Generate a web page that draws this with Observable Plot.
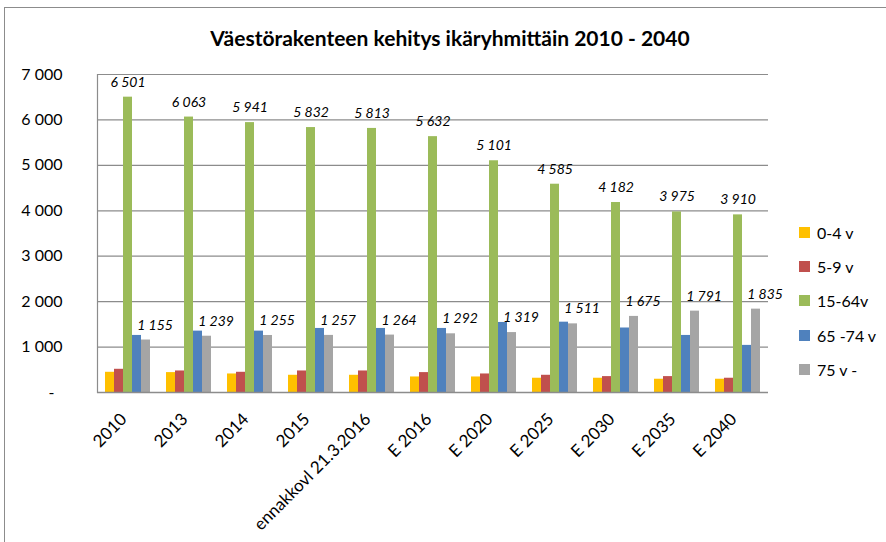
<!DOCTYPE html>
<html><head><meta charset="utf-8">
<script src="https://cdn.jsdelivr.net/npm/d3@7"></script>
<script src="https://cdn.jsdelivr.net/npm/@observablehq/plot@0.6"></script>
<style>
body{margin:0;background:#fff;font-family:Lato,sans-serif;}
#wrap{position:relative;width:886px;height:542px;overflow:hidden;background:#fff;}
#border{position:absolute;left:4px;top:7px;width:900px;height:560px;border:1px solid #8c8c8c;box-sizing:border-box;}
#title{position:absolute;left:0;width:900px;top:25px;text-align:center;font:bold 21px Lato,sans-serif;color:#000;}
#chart{position:absolute;left:0;top:0;}
#legend{position:absolute;left:799px;top:215px;font:16px Lato,sans-serif;color:#000;}
#legend .row{display:flex;align-items:center;height:34.3px;}
#legend .sw{width:11px;height:11px;margin-right:7px;}
</style></head>
<body>
<div id="wrap">
  <div id="border"></div>
  <div id="chart"></div>
  <div id="title">Väestörakenteen kehitys ikäryhmittäin 2010 - 2040</div>
  <div id="legend"></div>
</div>
<script>
const categories = ["2010","2013","2014","2015","ennakkovl 21.3.2016","E 2016","E 2020","E 2025","E 2030","E 2035","E 2040"];
const series = ["0-4 v","5-9 v","15-64v","65 -74 v","75 v -"];
const colors = ["#ffc000","#c0504d","#9bbb59","#4f81bd","#a5a5a5"];
const v0_4   = [445, 438, 408, 379, 379, 342, 342, 314, 314, 292, 292];
const v5_9   = [511, 474, 445, 474, 474, 438, 408, 379, 350, 350, 314];
const v15_64 = [6501, 6063, 5941, 5832, 5813, 5632, 5101, 4585, 4182, 3975, 3910];
const v65_74 = [1256, 1351, 1351, 1410, 1410, 1410, 1542, 1548, 1420, 1256, 1037];
const v75    = [1155, 1239, 1255, 1257, 1264, 1292, 1319, 1511, 1675, 1791, 1835];
const yTicks = [0, 1000, 2000, 3000, 4000, 5000, 6000, 7000];

const seriesValues = [v0_4, v5_9, v15_64, v65_74, v75];
const data = [];
categories.forEach((c, i) => series.forEach((s, j) => data.push({cat: c, series: s, value: seriesValues[j][i]})));
const fmt = v => d3.format(",")(v).replace(/,/g, " ");
const yFmt = v => v === 0 ? "-\u2002" : fmt(v);

const chart = Plot.plot({
  width: 886, height: 542,
  marginLeft: 96, marginRight: 117, marginTop: 74, marginBottom: 150,
  style: {fontFamily: "Lato, sans-serif", fontSize: "16px", color: "#000", background: "transparent"},
  fx: {domain: categories, padding: 0, label: null},
  x: {domain: series, paddingInner: 0, paddingOuter: 0.755, axis: null},
  y: {domain: [0, 7000], label: null},
  color: {domain: series, range: colors},
  marks: [
    Plot.gridY(yTicks.filter(d => d > 0), {stroke: "#8c8c8c", strokeOpacity: 1, strokeWidth: 1.2}),
    Plot.axisY(yTicks, {anchor: "left", tickFormat: yFmt, tickSize: 0, tickPadding: 35, fontSize: 16, label: null}),
    Plot.axisFx({anchor: "bottom", tickRotate: -45, tickSize: 0, tickPadding: 24, dx: -4, fontSize: 17, label: null}),
    Plot.barY(data, {fx: "cat", x: "series", y: "value", fill: "series"}),
    Plot.ruleY([0], {stroke: "#8c8c8c", strokeWidth: 1.5}),
    Plot.frame({anchor: "left", facetAnchor: "left", stroke: "#8c8c8c", strokeWidth: 1.2}),
    Plot.text(data.filter(d => d.series === "15-64v"), {fx: "cat", x: "series", y: "value", text: d => fmt(d.value), dy: -15, fontStyle: "italic", fontSize: 14}),
    Plot.text(data.filter(d => d.series === "75 v -"), {fx: "cat", x: "series", y: "value", text: d => fmt(d.value), dy: -15, dx: 9, fontStyle: "italic", fontSize: 14})
  ]
});
document.getElementById("chart").appendChild(chart);

const legend = document.getElementById("legend");
series.forEach((s, j) => {
  const row = document.createElement("div");
  row.className = "row";
  const sw = document.createElement("div");
  sw.className = "sw";
  sw.style.background = colors[j];
  const t = document.createElement("span");
  t.textContent = s;
  row.appendChild(sw); row.appendChild(t);
  legend.appendChild(row);
});
</script>
</body></html>
